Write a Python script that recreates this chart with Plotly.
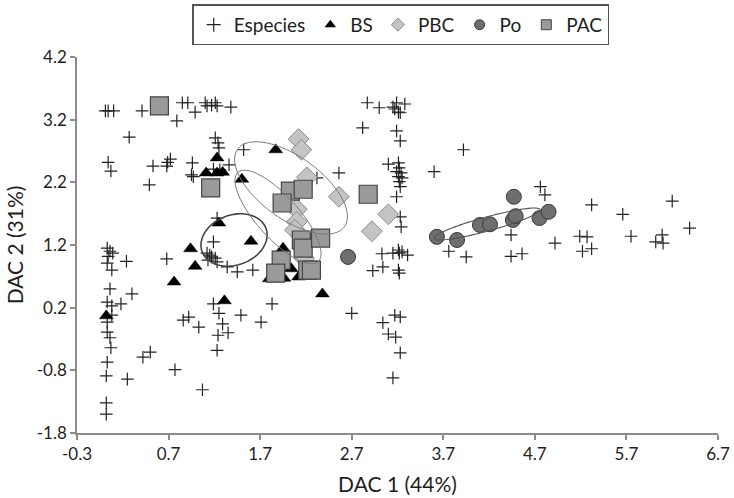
import numpy as np
import plotly.graph_objects as go

# ---- Species scores on the two discriminant axes ----
especies_x = [0.01, 0.04, 0.10, 0.27, 0.04, 0.07, 0.03, 0.06, 0.09, 0.04, 0.03, 0.08, 0.24, 0.06,
              0.30, 0.03, 0.18, 0.08, 0.08, 0.03, 0.06, 0.07, 0.03, 0.02, 0.25, 0.02, 0.02, 0.03,
              0.41, 0.85, 0.91, 0.99, 0.79, 1.10, 1.12, 1.17, 1.21, 1.23, 1.38, 1.21, 1.24, 1.25,
              1.52, 0.53, 0.69, 0.72, 0.68, 0.96, 0.95, 0.97, 0.49, 1.19, 1.26, 1.36, 1.23, 1.19,
              1.12, 1.15, 1.17, 1.21, 1.13, 1.23, 1.34, 0.68, 1.45, 1.62, 1.19, 1.25, 1.49, 1.71,
              0.86, 0.92, 1.03, 1.29, 1.35, 1.24, 1.23, 0.42, 0.50, 0.77, 1.07, 1.83, 2.56, 2.32,
              2.82, 2.93, 2.70, 2.87, 3.00, 3.15, 3.19, 3.17, 3.21, 3.23, 3.28, 3.19, 3.23, 3.92,
              3.10, 3.21, 3.22, 3.19, 3.24, 3.21, 3.25, 3.22, 3.23, 3.60, 3.19, 3.23, 3.24, 3.03,
              3.15, 3.21, 3.22, 3.25, 3.31, 3.04, 3.21, 3.22, 3.04, 3.10, 3.18, 3.17, 3.23, 3.23,
              3.15, 3.76, 3.95, 4.76, 4.81, 4.44, 4.44, 4.56, 4.92, 5.19, 5.27, 5.22, 5.32, 5.32,
              5.66, 5.75, 6.09, 6.02, 6.10, 6.20, 6.39]
especies_y = [3.34, 3.34, 3.34, 2.92, 2.52, 2.38, 1.15, 1.10, 1.07, 1.02, 0.91, 0.80, 0.94, 0.50,
              0.42, 0.29, 0.26, 0.23, 0.08, -0.19, -0.28, -0.44, -0.67, -0.89, -0.94, -1.32, -1.50, -0.03,
              3.34, 3.47, 3.47, 3.32, 3.18, 3.47, 3.42, 3.43, 3.47, 3.42, 3.40, 2.91, 2.83, 2.75,
              2.72, 2.46, 2.52, 2.57, 2.46, 2.51, 2.32, 2.29, 2.16, 2.41, 2.40, 2.48, 1.63, 1.25,
              1.07, 1.04, 1.01, 0.99, 0.96, 0.93, 0.85, 0.98, 0.77, 0.80, 0.26, 0.11, 0.08, -0.03,
              0.00, 0.05, -0.11, -0.06, -0.20, -0.24, -0.48, -0.59, -0.51, -0.79, -1.11, 0.26, 2.35, 2.27,
              3.07, 0.79, 0.11, 3.47, 3.39, 3.40, 3.47, 3.37, 3.32, 3.31, 3.45, 3.02, 2.86, 2.72,
              2.49, 2.51, 2.43, 2.37, 2.35, 2.29, 2.27, 2.21, 2.13, 2.37, 1.97, 1.65, 1.49, 1.06,
              1.07, 1.12, 1.07, 1.09, 1.04, 0.85, 0.80, 0.75, -0.04, -0.22, -0.27, 0.08, 0.05, -0.52,
              -0.92, 1.10, 1.01, 2.13, 2.00, 1.36, 1.02, 1.06, 1.23, 1.34, 1.33, 1.10, 1.14, 1.84,
              1.69, 1.34, 1.36, 1.25, 1.23, 1.90, 1.47]

# ---- Group centroids ----
bs_x = [1.23, 1.11, 1.23, 1.29, 1.50, 1.87, 1.25, 1.60, 0.94, 0.99, 0.76, 1.31, 0.02,
        1.95, 2.04, 1.80, 1.96, 2.12, 2.38]
bs_y = [2.59, 2.35, 2.35, 2.36, 2.25, 2.72, 1.55, 1.26, 1.14, 0.86, 0.61, 0.31, 0.07,
        1.15, 0.82, 0.66, 0.67, 0.69, 0.42]

pbc_x = [2.12, 2.15, 2.21, 2.56, 2.10, 2.10, 2.08, 2.18, 2.92, 3.10]
pbc_y = [2.89, 2.72, 2.28, 1.97, 1.77, 1.57, 1.44, 0.99, 1.42, 1.69]

po_x = [2.66, 3.63, 3.85, 4.10, 4.21, 4.46, 4.49, 4.47, 4.75, 4.85]
po_y = [1.01, 1.33, 1.28, 1.52, 1.53, 1.60, 1.66, 1.97, 1.63, 1.73]

pac_x = [0.60, 1.16, 2.03, 2.17, 1.94, 2.15, 2.17, 2.36, 1.93, 1.87, 2.22, 2.26, 2.88]
pac_y = [3.42, 2.11, 2.06, 2.09, 1.87, 1.28, 1.15, 1.31, 0.96, 0.75, 0.80, 0.80, 2.01]

# ---- Confidence ellipses: centre, two half-axis vectors (data units), colour, width ----
ellipse_centres = [(1.415, 1.28), (2.037, 2.11), (1.895, 1.647), (4.178, 1.535)]
ellipse_u = [(0.349, 0.185), (0.583, -0.619), (0.438, -0.712), (0.579, 0.231)]
ellipse_v = [(0.093, -0.375), (0.199, 0.400), (0.170, 0.224), (0.020, -0.108)]
ellipse_colors = ["#444444", "#7a7a7a", "#7a7a7a", "#555555"]
ellipse_widths = [1.6, 1.0, 1.0, 1.1]


def ellipse_path(c, u, v, n=90):
    t = np.linspace(0, 2 * np.pi, n)
    xs = c[0] + np.cos(t) * u[0] + np.sin(t) * v[0]
    ys = c[1] + np.cos(t) * u[1] + np.sin(t) * v[1]
    pts = [f"{x:.4f},{y:.4f}" for x, y in zip(xs, ys)]
    return "M " + " L ".join(pts) + " Z"


FONT = "Lato, 'Open Sans', sans-serif"
TXT = "#1e1e1e"

fig = go.Figure()

# data traces (legend handled by small proxy entries below)
fig.add_trace(go.Scatter(
    x=especies_x, y=especies_y, mode="markers", name="Especies", showlegend=False,
    marker=dict(symbol="cross-thin", size=9, line=dict(color="#222222", width=1.2)),
))
fig.add_trace(go.Scatter(
    x=bs_x, y=bs_y, mode="markers", name="BS", showlegend=False,
    marker=dict(symbol="triangle-up", size=12, color="#000000", line=dict(color="#000000", width=0.5)),
))
fig.add_trace(go.Scatter(
    x=pbc_x, y=pbc_y, mode="markers", name="PBC", showlegend=False,
    marker=dict(symbol="diamond", size=16, color="#c4c4c4", line=dict(color="#8a8a8a", width=1)),
))
fig.add_trace(go.Scatter(
    x=po_x, y=po_y, mode="markers", name="Po", showlegend=False,
    marker=dict(symbol="circle", size=15, color="#6e6e6e", line=dict(color="#3a3a3a", width=1)),
))
fig.add_trace(go.Scatter(
    x=pac_x, y=pac_y, mode="markers", name="PAC", showlegend=False,
    marker=dict(symbol="square", size=18, color="#9a9a9a", line=dict(color="#444444", width=1.2)),
))

# legend proxies
legend_items = [
    ("Especies", dict(symbol="cross-thin", size=10, line=dict(color="#222222", width=1.2))),
    ("BS", dict(symbol="triangle-up", size=10, color="#000000")),
    ("PBC", dict(symbol="diamond", size=10, color="#c4c4c4", line=dict(color="#8a8a8a", width=1))),
    ("Po", dict(symbol="circle", size=10, color="#6e6e6e", line=dict(color="#3a3a3a", width=1))),
    ("PAC", dict(symbol="square", size=10, color="#9a9a9a", line=dict(color="#444444", width=1))),
]
for name, mk in legend_items:
    fig.add_trace(go.Scatter(x=[None], y=[None], mode="markers", name=name, marker=mk))

shapes = []
for c, u, v, col, w in zip(ellipse_centres, ellipse_u, ellipse_v, ellipse_colors, ellipse_widths):
    shapes.append(dict(type="path", xref="x", yref="y", path=ellipse_path(c, u, v),
                       line=dict(color=col, width=w), fillcolor="rgba(0,0,0,0)", layer="above"))

x_ticks = [-0.3, 0.7, 1.7, 2.7, 3.7, 4.7, 5.7, 6.7]
y_ticks = [-1.8, -0.8, 0.2, 1.2, 2.2, 3.2, 4.2]

fig.update_layout(
    width=734, height=498,
    margin=dict(l=77, r=16, t=57, b=65, autoexpand=False),
    paper_bgcolor="white", plot_bgcolor="white",
    font=dict(family=FONT, size=17, color=TXT),
    shapes=shapes,
    showlegend=True,
    legend=dict(
        orientation="h", x=0.505, xanchor="center", y=1.14, yanchor="top",
        bordercolor="#555555", borderwidth=1.5, bgcolor="white",
        font=dict(family=FONT, size=19, color=TXT),
        itemwidth=30, tracegroupgap=0,
    ),
    xaxis=dict(
        range=[-0.3, 6.7], tickmode="array", tickvals=x_ticks,
        ticktext=[f"{t:.1f}" for t in x_ticks],
        showgrid=False, zeroline=False,
        showline=True, linecolor="#8c8c8c", linewidth=1.5,
        ticks="outside", ticklen=5, tickcolor="#8c8c8c", tickwidth=1.5,
        tickfont=dict(family=FONT, size=17, color=TXT),
        title=dict(text="DAC 1 (44%)", font=dict(family=FONT, size=21, color=TXT), standoff=14),
    ),
    yaxis=dict(
        range=[-1.8, 4.2], tickmode="array", tickvals=y_ticks,
        ticktext=[f"{t:.1f}" for t in y_ticks],
        showgrid=False, zeroline=False,
        showline=True, linecolor="#8c8c8c", linewidth=1.5,
        ticks="outside", ticklen=5, tickcolor="#8c8c8c", tickwidth=1.5,
        tickfont=dict(family=FONT, size=17, color=TXT),
        title=dict(text="DAC 2 (31%)", font=dict(family=FONT, size=21, color=TXT), standoff=7),
    ),
)

fig.write_html("out.html")
